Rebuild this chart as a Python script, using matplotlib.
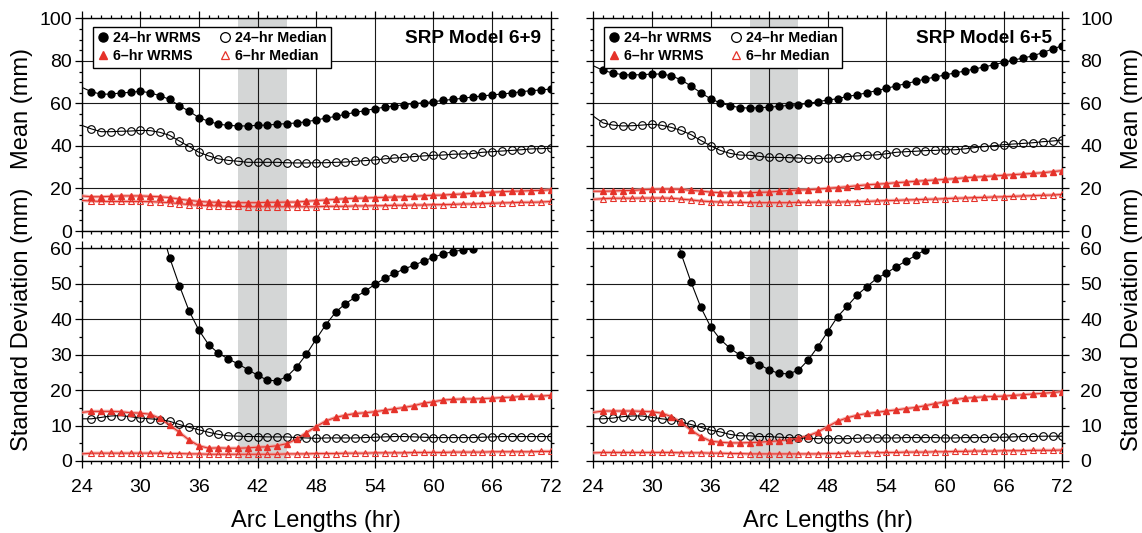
import numpy as np
import matplotlib
matplotlib.use("Agg")
import matplotlib.pyplot as plt
from matplotlib.lines import Line2D
from matplotlib.ticker import MultipleLocator

plt.rcParams['font.family'] = ['Liberation Sans', 'DejaVu Sans']

# Arc lengths (hr), one value per hour
arc_hours = np.arange(24, 73)
nan = np.nan

# ---- SRP Model 6+9 ----
mean_wrms24_69 = [67.6, 65.5, 64.3, 64.4, 64.9, 65.2, 65.7, 65.0, 63.6, 61.9,
                  58.9, 56.3, 53.3, 51.6, 50.2, 49.7, 49.4, 49.4, 49.7, 49.8,
                  50.2, 50.5, 50.8, 51.4, 52.2, 53.1, 53.9, 54.9, 55.8, 56.6,
                  57.5, 58.2, 58.8, 59.4, 59.9, 60.3, 60.8, 61.4, 61.9, 62.4,
                  63.0, 63.5, 64.0, 64.4, 64.9, 65.5, 66.0, 66.3, 66.8]
mean_med24_69 = [49.7, 48.0, 46.7, 46.7, 46.9, 47.0, 47.3, 47.2, 46.4, 45.0,
                 42.3, 39.7, 37.0, 35.3, 33.9, 33.2, 32.8, 32.3, 32.3, 32.3,
                 32.3, 32.1, 32.0, 32.0, 32.1, 32.1, 32.3, 32.4, 32.8, 33.1,
                 33.4, 33.9, 34.3, 34.6, 35.0, 35.3, 35.6, 35.7, 36.1, 36.2,
                 36.4, 37.0, 37.3, 37.6, 37.9, 38.2, 38.6, 38.7, 38.9]
mean_wrms6_69 = [16.5, 16.1, 16.1, 16.3, 16.5, 16.5, 16.5, 16.3, 16.1, 15.7,
                 15.0, 14.4, 13.9, 13.6, 13.5, 13.3, 13.3, 13.3, 13.3, 13.5,
                 13.5, 13.6, 13.6, 14.0, 14.3, 14.6, 14.9, 15.2, 15.4, 15.5,
                 15.7, 15.8, 16.0, 16.1, 16.3, 16.6, 16.8, 16.9, 17.2, 17.4,
                 17.7, 18.0, 18.3, 18.5, 18.7, 18.8, 19.0, 19.1, 19.4]
mean_med6_69 = [14.4, 14.1, 13.9, 13.9, 13.9, 13.9, 13.9, 13.8, 13.6, 13.3,
                12.9, 12.4, 12.1, 11.9, 11.8, 11.6, 11.6, 11.4, 11.4, 11.4,
                11.4, 11.4, 11.4, 11.4, 11.4, 11.6, 11.6, 11.6, 11.8, 11.8,
                11.9, 11.9, 12.1, 12.1, 12.2, 12.2, 12.4, 12.4, 12.5, 12.7,
                12.7, 12.9, 13.0, 13.2, 13.3, 13.5, 13.5, 13.6, 13.9]
std_wrms24_69 = [nan, nan, nan, nan, nan, nan, nan, nan, 67.0, 57.4,
                 49.5, 42.3, 36.9, 32.8, 30.4, 28.8, 27.4, 25.8, 24.2, 22.8,
                 22.6, 23.8, 26.5, 30.1, 34.4, 38.5, 42.0, 44.4, 46.2, 47.9,
                 49.8, 51.5, 52.9, 54.2, 55.2, 56.4, 57.5, 58.4, 59.1, 59.5,
                 59.8, nan, nan, nan, nan, nan, nan, nan, nan]
std_med24_69 = [11.9, 11.9, 12.3, 12.7, 12.8, 12.5, 12.1, 11.9, 11.7, 11.2,
                10.3, 9.5, 8.8, 8.1, 7.5, 7.1, 7.0, 6.9, 6.9, 6.8,
                6.8, 6.8, 6.6, 6.5, 6.4, 6.5, 6.5, 6.5, 6.5, 6.6,
                6.7, 6.8, 6.9, 6.9, 6.8, 6.7, 6.6, 6.6, 6.6, 6.6,
                6.6, 6.7, 6.8, 6.9, 6.9, 6.9, 6.9, 6.9, 6.9]
std_wrms6_69 = [13.7, 14.0, 14.0, 14.0, 13.9, 13.6, 13.5, 13.2, 12.0, 10.2,
                8.1, 5.9, 4.3, 3.6, 3.7, 3.6, 3.6, 3.7, 3.9, 4.0,
                4.3, 4.9, 6.2, 8.0, 9.7, 11.3, 12.3, 12.9, 13.4, 13.6,
                13.9, 14.3, 14.7, 15.1, 15.6, 16.3, 16.7, 17.2, 17.4, 17.5,
                17.5, 17.6, 17.7, 17.9, 18.0, 18.2, 18.3, 18.3, 18.5]
std_med6_69 = [2.0, 2.2, 2.2, 2.2, 2.2, 2.2, 2.2, 2.2, 2.2, 2.1,
               2.1, 2.0, 2.0, 1.9, 1.9, 1.9, 1.9, 1.9, 1.9, 1.9,
               1.9, 2.0, 2.0, 2.0, 2.1, 2.1, 2.1, 2.2, 2.2, 2.2,
               2.3, 2.3, 2.3, 2.3, 2.4, 2.4, 2.4, 2.4, 2.5, 2.5,
               2.5, 2.5, 2.6, 2.6, 2.6, 2.6, 2.6, 2.7, 2.7]

# ---- SRP Model 6+5 ----
mean_wrms24_65 = [77.7, 75.5, 74.3, 73.5, 73.4, 73.5, 73.8, 73.8, 73.0, 71.0,
                  68.2, 65.0, 62.2, 60.2, 58.9, 58.0, 57.8, 58.0, 58.2, 58.6,
                  59.1, 59.4, 60.0, 60.8, 61.6, 62.2, 63.3, 64.0, 65.0, 66.0,
                  67.1, 68.2, 69.3, 70.4, 71.5, 72.4, 73.4, 74.3, 75.2, 76.2,
                  77.1, 78.2, 79.3, 80.4, 81.3, 82.4, 83.9, 85.6, 87.1]
mean_med24_65 = [54.0, 50.8, 49.8, 49.4, 49.5, 49.8, 50.2, 49.7, 48.7, 47.3,
                 45.3, 42.6, 40.1, 37.9, 36.5, 35.7, 35.6, 35.1, 34.6, 34.6,
                 34.5, 34.3, 34.0, 34.0, 34.2, 34.5, 35.0, 35.3, 35.6, 35.8,
                 36.3, 37.0, 37.3, 37.5, 37.8, 37.9, 38.2, 38.2, 38.6, 39.2,
                 39.7, 40.1, 40.6, 40.9, 41.2, 41.5, 42.0, 42.3, 42.8]
mean_wrms6_65 = [18.7, 18.7, 18.8, 19.0, 19.1, 19.4, 19.6, 19.7, 19.7, 19.6,
                 19.1, 18.8, 18.3, 18.0, 17.9, 17.9, 18.0, 18.2, 18.3, 18.7,
                 19.0, 19.3, 19.4, 19.7, 20.1, 20.4, 20.8, 21.3, 21.7, 22.0,
                 22.3, 22.7, 23.0, 23.4, 23.7, 24.0, 24.3, 24.6, 25.0, 25.3,
                 25.6, 25.9, 26.2, 26.5, 26.8, 27.1, 27.4, 27.9, 28.4]
mean_med6_65 = [14.9, 15.2, 15.4, 15.4, 15.4, 15.5, 15.5, 15.5, 15.4, 15.0,
                14.6, 14.1, 13.8, 13.6, 13.5, 13.5, 13.3, 13.3, 13.3, 13.3,
                13.3, 13.5, 13.5, 13.6, 13.6, 13.6, 13.7, 13.8, 13.9, 14.1,
                14.3, 14.4, 14.6, 14.7, 14.9, 15.0, 15.2, 15.4, 15.5, 15.7,
                15.8, 16.0, 16.1, 16.3, 16.5, 16.6, 16.8, 16.9, 17.2]
std_wrms24_65 = [nan, nan, nan, nan, nan, nan, nan, nan, 68.0, 58.4,
                 50.5, 43.4, 37.9, 34.3, 31.8, 29.9, 28.6, 27.2, 25.7, 24.7,
                 24.6, 25.6, 28.5, 32.3, 36.5, 40.7, 43.7, 46.8, 49.2, 51.5,
                 53.0, 54.8, 56.4, 58.0, 59.6, nan, nan, nan, nan, nan,
                 nan, nan, nan, nan, nan, nan, nan, nan, nan]
std_med24_65 = [11.9, 11.9, 12.1, 12.5, 12.7, 12.7, 12.3, 11.9, 11.6, 11.0,
                10.3, 9.5, 8.7, 8.2, 7.5, 7.1, 7.1, 6.9, 6.9, 6.7,
                6.6, 6.5, 6.4, 6.3, 6.3, 6.3, 6.3, 6.4, 6.5, 6.5,
                6.5, 6.5, 6.6, 6.6, 6.6, 6.6, 6.5, 6.5, 6.6, 6.6,
                6.6, 6.7, 6.7, 6.8, 6.9, 6.9, 7.0, 7.0, 7.0]
std_wrms6_65 = [13.7, 14.1, 14.1, 14.1, 14.1, 14.0, 13.9, 13.5, 12.5, 10.9,
                8.7, 6.9, 5.6, 5.3, 5.1, 5.1, 5.2, 5.3, 5.5, 5.7,
                6.0, 6.5, 7.1, 8.2, 9.7, 11.2, 12.2, 12.9, 13.4, 13.7,
                14.1, 14.4, 14.8, 15.1, 15.6, 16.2, 16.7, 17.3, 17.7, 17.9,
                18.1, 18.2, 18.3, 18.5, 18.7, 18.9, 19.1, 19.3, 19.6]
std_med6_65 = [2.3, 2.4, 2.4, 2.4, 2.4, 2.4, 2.4, 2.4, 2.4, 2.3,
               2.3, 2.3, 2.2, 2.2, 2.1, 2.1, 2.0, 2.0, 2.0, 2.0,
               2.0, 2.0, 2.0, 2.0, 2.1, 2.1, 2.2, 2.2, 2.3, 2.3,
               2.4, 2.4, 2.5, 2.5, 2.5, 2.6, 2.6, 2.7, 2.7, 2.8,
               2.8, 2.8, 2.9, 2.9, 2.9, 3.0, 3.0, 3.0, 3.1]

# Shaded arc-length window
band_start, band_end = 40, 45

RED = '#e5322a'
PINK = '#f29b96'
BAND = '#d4d6d6'


def plot_series(ax, y, kind):
    """kind: 'wrms24', 'med24', 'wrms6', 'med6'"""
    every = slice(1, None)
    if kind == 'wrms24':
        ax.plot(arc_hours, y, color='black', lw=0.8, marker='o', ms=5,
                mfc='black', mec='black', markevery=every, zorder=4)
    elif kind == 'med24':
        ax.plot(arc_hours, y, color='black', lw=0.8, marker='o', ms=5.5,
                mfc='none', mec='black', mew=0.8, markevery=every, zorder=4)
    elif kind == 'wrms6':
        ax.plot(arc_hours, y, color=PINK, lw=2.4, alpha=0.8, zorder=3)
        ax.plot(arc_hours, y, color=RED, lw=0.8, marker='^', ms=4.5,
                mfc=RED, mec=RED, markevery=every, zorder=4)
    else:
        ax.plot(arc_hours, y, color=PINK, lw=2.4, alpha=0.8, zorder=3)
        ax.plot(arc_hours, y, color=RED, lw=0.8, marker='^', ms=5,
                mfc='none', mec=RED, mew=0.8, markevery=every, zorder=4)


def style_axes(ax, ymax, ymajor, labels_side, show_x):
    ax.set_xlim(24, 72)
    ax.set_ylim(0, ymax)
    ax.xaxis.set_major_locator(MultipleLocator(6))
    ax.xaxis.set_minor_locator(MultipleLocator(1))
    ax.yaxis.set_major_locator(MultipleLocator(ymajor))
    ax.yaxis.set_minor_locator(MultipleLocator(5))
    ax.axvspan(band_start, band_end, color=BAND, lw=0, zorder=0.3)
    ax.set_axisbelow(True)
    ax.grid(which='major', color='#1a1a1a', lw=0.8)
    for sp in ax.spines.values():
        sp.set_linewidth(1.0)
    ax.tick_params(which='both', direction='out', top=True, right=True,
                   width=0.9, labelsize=14, colors='black')
    ax.tick_params(which='major', length=5)
    ax.tick_params(which='minor', length=2.5)
    # right-hand labels sit further out than the left-hand ones
    ax.tick_params(axis='y', which='major', pad=2 if labels_side == 'left' else 8)
    ax.tick_params(axis='x', which='major', pad=8)
    ax.tick_params(labelbottom=show_x, labeltop=False,
                   labelleft=(labels_side == 'left'),
                   labelright=(labels_side == 'right'))


fig = plt.figure(figsize=(11.42, 5.33), dpi=100)

# (axes left, tick-label side, y-label x position, title, mean series, std series)
panels = [
    (0.0715, 'left', 0.019, 'SRP Model 6+9',
     [mean_wrms24_69, mean_med24_69, mean_wrms6_69, mean_med6_69],
     [std_wrms24_69, std_med24_69, std_wrms6_69, std_med6_69]),
    (0.5195, 'right', 0.991, 'SRP Model 6+5',
     [mean_wrms24_65, mean_med24_65, mean_wrms6_65, mean_med6_65],
     [std_wrms24_65, std_med24_65, std_wrms6_65, std_med6_65]),
]
kinds = ['wrms24', 'med24', 'wrms6', 'med6']

legend_handles = [
    Line2D([], [], ls='none', marker='o', ms=6.5, mfc='black', mec='black', label='24\u2013hr WRMS'),
    Line2D([], [], ls='none', marker='^', ms=5.5, mfc=RED, mec=RED, label='6\u2013hr WRMS'),
    Line2D([], [], ls='none', marker='o', ms=7, mfc='none', mec='black', mew=0.9, label='24\u2013hr Median'),
    Line2D([], [], ls='none', marker='^', ms=6, mfc='none', mec=RED, mew=0.9, label='6\u2013hr Median'),
]

for left, side, label_x, title, mean_sets, std_sets in panels:
    ax_top = fig.add_axes([left, 0.5666, 0.4107, 0.399])
    ax_bot = fig.add_axes([left, 0.1351, 0.4107, 0.399])

    style_axes(ax_top, 100, 20, side, False)
    style_axes(ax_bot, 60, 10, side, True)

    for y, kind in zip(mean_sets, kinds):
        plot_series(ax_top, y, kind)
    for y, kind in zip(std_sets, kinds):
        plot_series(ax_bot, y, kind)

    fig.text(label_x, 0.7964, 'Mean (mm)', rotation=90, ha='center', va='center', fontsize=17)
    fig.text(label_x, 0.4015, 'Standard Deviation (mm)', rotation=90,
             ha='center', va='center', fontsize=17)
    ax_bot.set_xlabel('Arc Lengths (hr)', fontsize=17, labelpad=10)

    ax_top.text(0.979, 0.903, title, transform=ax_top.transAxes,
                ha='right', va='center', fontsize=13.7, fontweight='bold', zorder=6)

    leg = ax_top.legend(handles=legend_handles, ncol=2, loc='upper left',
                        bbox_to_anchor=(0.0235, 0.9605), borderaxespad=0,
                        fancybox=False, framealpha=1, edgecolor='black',
                        prop={'weight': 'bold', 'size': 10.3},
                        handlelength=0.8, handletextpad=0.3, columnspacing=1.3,
                        labelspacing=0.3, borderpad=0.3)
    leg.get_frame().set_linewidth(1.0)
    leg.set_zorder(7)

plt.savefig('out.png', dpi=100)
